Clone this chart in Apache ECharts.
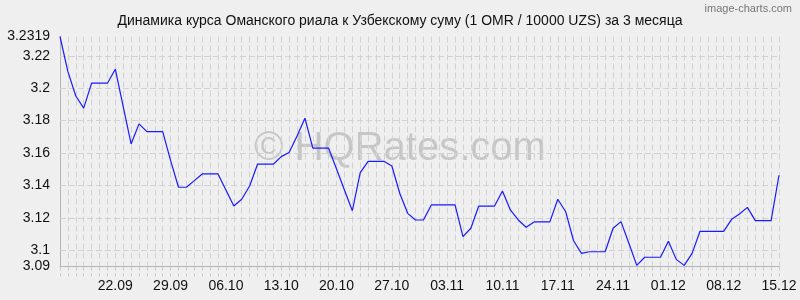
<!DOCTYPE html>
<html><head><meta charset="utf-8">
<script src="https://cdn.jsdelivr.net/npm/echarts@6/dist/echarts.min.js"></script>
<style>html,body{margin:0;padding:0;background:#efefef}#c{width:800px;height:300px}</style>
</head><body><div id="c"></div>
<script>
var titleText = 'Динамика курса Оманского риала к Узбекскому суму (1 OMR / 10000 UZS) за 3 месяца';
var dates = ['15.09','16.09','17.09','18.09','19.09','20.09','21.09','22.09','23.09','24.09','25.09','26.09','27.09','28.09','29.09','30.09',
'01.10','02.10','03.10','04.10','05.10','06.10','07.10','08.10','09.10','10.10','11.10','12.10','13.10','14.10','15.10','16.10','17.10','18.10','19.10','20.10','21.10','22.10','23.10','24.10','25.10','26.10','27.10','28.10','29.10','30.10','31.10',
'01.11','02.11','03.11','04.11','05.11','06.11','07.11','08.11','09.11','10.11','11.11','12.11','13.11','14.11','15.11','16.11','17.11','18.11','19.11','20.11','21.11','22.11','23.11','24.11','25.11','26.11','27.11','28.11','29.11','30.11',
'01.12','02.12','03.12','04.12','05.12','06.12','07.12','08.12','09.12','10.12','11.12','12.12','13.12','14.12','15.12'];
var rates = [3.2319,3.2102,3.1952,3.1877,3.2031,3.2031,3.2031,3.2117,3.1887,3.1656,
3.1780,3.1732,3.1732,3.1732,3.1553,3.1389,3.1389,3.1430,3.1471,3.1471,
3.1471,3.1372,3.1273,3.1315,3.1397,3.1531,3.1531,3.1531,3.1578,3.1603,
3.1705,3.1815,3.1630,3.1630,3.1630,3.1502,3.1372,3.1244,3.1479,3.1549,
3.1549,3.1549,3.1520,3.1352,3.1228,3.1187,3.1187,3.1280,3.1280,3.1280,
3.1280,3.1084,3.1136,3.1273,3.1273,3.1273,3.1366,3.1249,3.1187,3.1142,
3.1175,3.1175,3.1175,3.1315,3.1238,3.1059,3.0981,3.0991,3.0991,3.0991,
3.1136,3.1177,3.1043,3.0907,3.0957,3.0957,3.0957,3.1056,3.0944,3.0907,
3.0981,3.1117,3.1117,3.1117,3.1117,3.1191,3.1224,3.1265,3.1183,3.1183,
3.1183,3.1463];
var yMin = 3.09, yMax = 3.2319;
var yTickLabels = ['3.09','3.1','3.12','3.14','3.16','3.18','3.2','3.22','3.2319'];
var yGridLines = [3.10, 3.12, 3.14, 3.16, 3.18, 3.20, 3.22];

var chart = echarts.init(document.getElementById('c'));
var font = 'Liberation Sans, Arial, sans-serif';
chart.setOption({
  backgroundColor: '#efefef',
  animation: false,
  title: { text: titleText, left: 'center', top: 9,
    textStyle: { fontFamily: font, fontSize: 14, fontWeight: 'normal', color: '#111' } },
  graphic: [
    { type: 'text', right: 8, top: 3, z: 0, style: { text: 'image-charts.com', fontFamily: font, fontSize: 11, fill: '#777' } },
    { type: 'text', left: 'center', top: 129, z: 0, style: { text: '© HQRates.com', fontFamily: font, fontSize: 40, fill: 'rgba(0,0,0,0.17)' } }
  ],
  grid: { left: 60, right: 21, top: 36.5, bottom: 33.5 },
  xAxis: {
    type: 'category', data: dates, boundaryGap: false,
    axisLine: { show: true, lineStyle: { color: '#b4b4b4', width: 1 } },
    axisTick: { show: true, interval: 0, length: 10, lineStyle: { color: '#c8c8c8', type: [4, 3] } },
    splitLine: { show: true, interval: 0, lineStyle: { color: '#d2d2d2', type: [6, 3] } },
    axisLabel: { interval: function (i) { return i > 0 && i % 7 === 0; }, margin: 13,
      fontFamily: font, fontSize: 14, color: '#111' }
  },
  yAxis: {
    type: 'value', min: yMin, max: yMax, interval: 0.01,
    axisLine: { show: true, lineStyle: { color: '#b4b4b4', width: 1 } },
    axisTick: { show: false },
    splitLine: { show: false },
    axisLabel: { margin: 10, fontFamily: font, fontSize: 14, color: '#111',
      formatter: function (v) {
        var s1 = String(Math.round(v * 100) / 100);
        var s4 = String(Math.round(v * 10000) / 10000);
        if (yTickLabels.indexOf(s4) >= 0) return s4;
        if (Math.abs(v * 100 - Math.round(v * 100)) < 1e-6 && yTickLabels.indexOf(s1) >= 0) return s1;
        return '';
      } }
  },
  series: [{
    type: 'line', data: rates, symbol: 'none', z: 5,
    lineStyle: { color: '#1a1aff', width: 1.2 },
    markLine: {
      silent: true, symbol: ['none', 'none'], label: { show: false }, animation: false,
      lineStyle: { color: '#d2d2d2', type: [6, 3], width: 1 },
      emphasis: { disabled: true },
      data: yGridLines.map(function (v) { return { yAxis: v }; })
    }
  }]
});
</script></body></html>
